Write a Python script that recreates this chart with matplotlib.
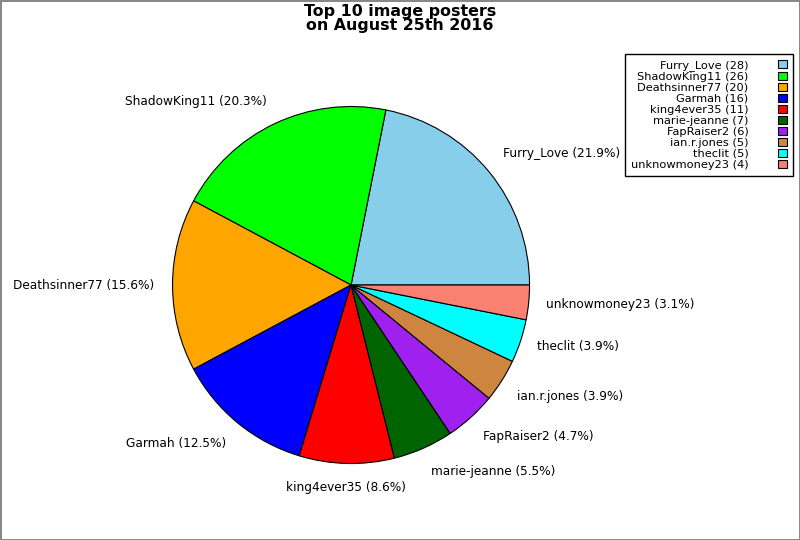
import math
import matplotlib
matplotlib.use("Agg")
import matplotlib.pyplot as plt

names = ["Furry_Love", "ShadowKing11", "Deathsinner77", "Garmah", "king4ever35",
         "marie-jeanne", "FapRaiser2", "ian.r.jones", "theclit", "unknowmoney23"]
counts = [28, 26, 20, 16, 11, 7, 6, 5, 5, 4]
colors = ["#87ceeb", "#00ff00", "#ffa500", "#0000ff", "#ff0000",
          "#006400", "#a020f0", "#cd853f", "#00ffff", "#fa8072"]

total = sum(counts)
pie_labels = ["%s (%.1f%%)" % (n, 100.0 * c / total) for n, c in zip(names, counts)]
legend_labels = ["%s (%d)" % (n, c) for n, c in zip(names, counts)]

fig = plt.figure(figsize=(8, 5.4), dpi=100)
fig.patch.set_edgecolor("#888888")
fig.patch.set_linewidth(2)

ax = fig.add_axes([0.1599, 0.0590, 0.5578, 0.8264])
wedges, texts = ax.pie(counts, labels=pie_labels, colors=colors, startangle=0,
                       wedgeprops=dict(edgecolor="black", linewidth=0.8),
                       textprops=dict(fontsize=8.7))
ax.set_xlim(-1.25, 1.25)
ax.set_ylim(-1.25, 1.25)
ax.set_aspect("equal")

# label alignment: push labels outward vertically, centre the ones near the bottom
for w, t in zip(wedges, texts):
    mid = math.radians((w.theta1 + w.theta2) / 2.0)
    c, s = math.cos(mid), math.sin(mid)
    if abs(c) < 0.1:
        t.set_ha("center")
    else:
        t.set_ha("left" if c > 0 else "right")
    if s > 0.35:
        t.set_va("bottom")
    elif s < -0.35:
        t.set_va("top")
    else:
        t.set_va("center")

fig.suptitle("Top 10 image posters\non August 25th 2016", fontsize=11.4,
             fontweight="bold", y=0.992, linespacing=0.9)

leg = fig.legend(wedges, legend_labels, loc="upper right",
                 bbox_to_anchor=(0.991, 0.9), markerfirst=False,
                 fontsize=8.2, labelspacing=0.06, handlelength=0.8,
                 handleheight=0.8, handletextpad=2.6, borderpad=0.5,
                 fancybox=False, framealpha=1, borderaxespad=0)
leg.get_frame().set_edgecolor("black")
leg.get_frame().set_linewidth(1)

fig.savefig("out.png", dpi=100, edgecolor=fig.get_edgecolor())
